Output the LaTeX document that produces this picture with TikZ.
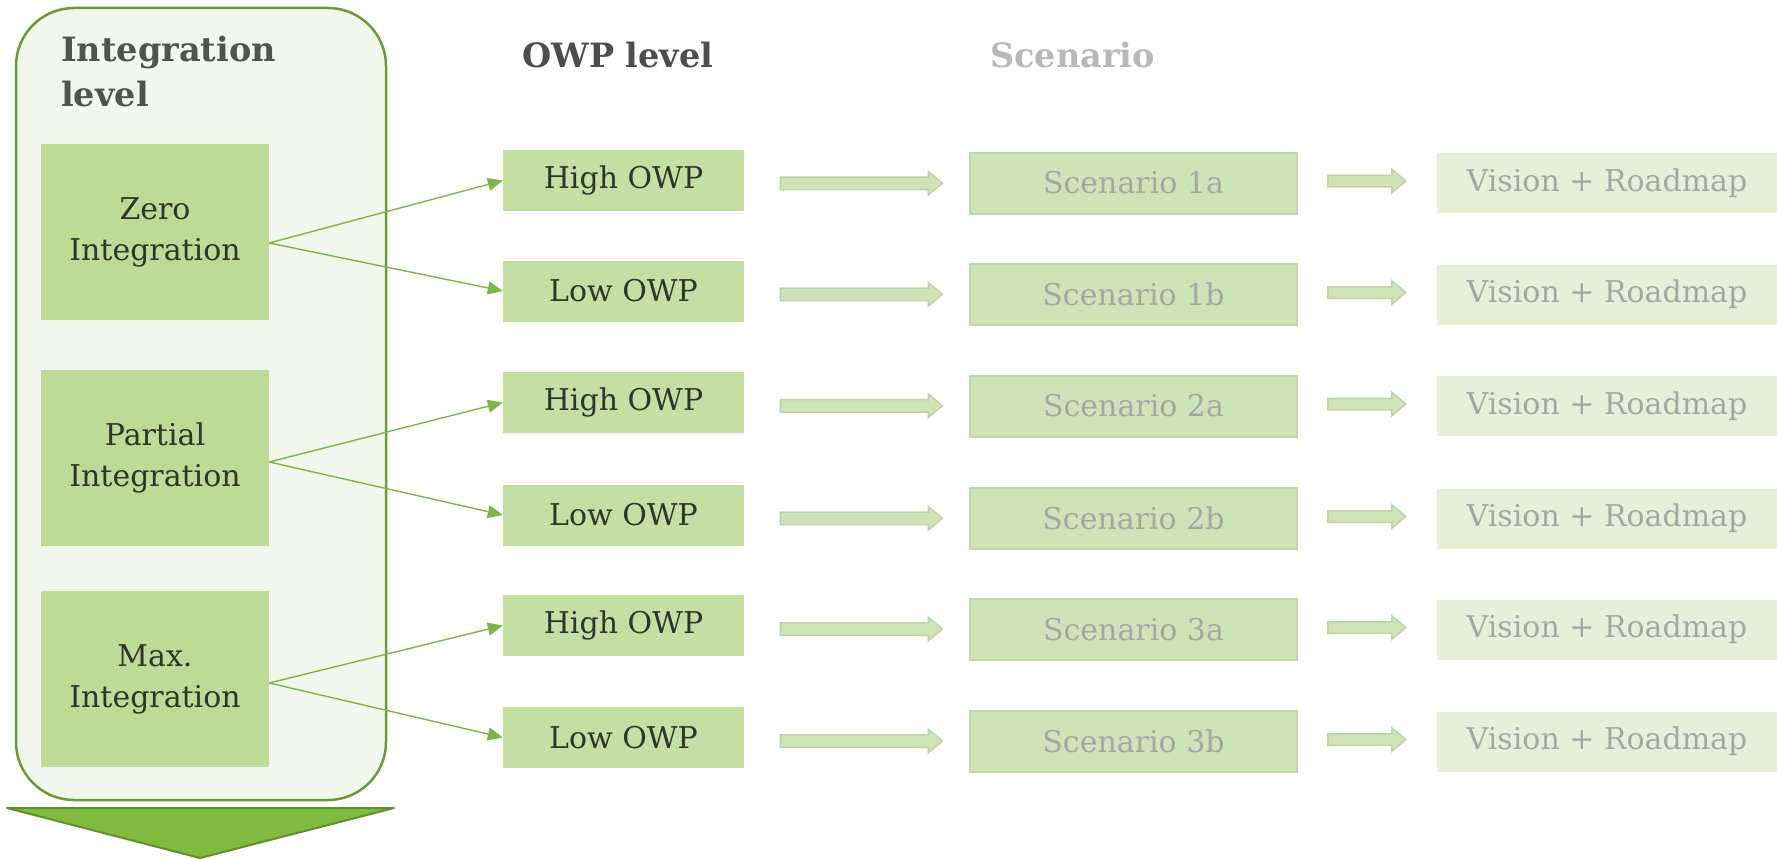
\documentclass[tikz,border=0pt]{standalone}
\usepackage{fontspec}
\setmainfont{DejaVu Serif}
\usetikzlibrary{arrows.meta,shapes.arrows,calc}
\definecolor{panelfill}{HTML}{F1F7EC}
\definecolor{panelborder}{HTML}{6A9A3A}
\definecolor{intfill}{HTML}{BCDB96}
\definecolor{owpfill}{HTML}{C4DFA4}
\definecolor{linegreen}{HTML}{7AB648}
\definecolor{trifill}{HTML}{80BB3F}
\definecolor{triborder}{HTML}{5F8F2E}
\definecolor{barfill}{HTML}{CFE4B7}
\definecolor{barborder}{HTML}{BDD3A6}
\definecolor{scenfill}{HTML}{CFE4B6}
\definecolor{scenborder}{HTML}{C3D7AC}
\definecolor{visfill}{HTML}{E6F0D9}
\definecolor{dimtext}{HTML}{A6A6A6}
\definecolor{headdark}{HTML}{4F5548}
\definecolor{owphead}{HTML}{4D4D4D}
\definecolor{scenhead}{HTML}{B8B8B8}
\definecolor{boxtext}{HTML}{2E3529}
\tikzset{
  intbox/.style={fill=intfill, draw=none, minimum width=228pt, minimum height=176pt, inner sep=0pt,
    align=center, text=boxtext, font=\fontsize{30}{41}\selectfont},
  owpbox/.style={fill=owpfill, draw=none, minimum width=241pt, minimum height=61pt, inner sep=0pt,
    text=boxtext, font=\fontsize{30}{36}\selectfont},
  scenbox/.style={fill=scenfill, draw=scenborder, line width=2pt, minimum width=327pt, minimum height=61pt, inner sep=0pt,
    text=dimtext, font=\fontsize{30}{36}\selectfont},
  visbox/.style={fill=visfill, draw=none, minimum width=340pt, minimum height=60pt, inner sep=0pt,
    text=dimtext, font=\fontsize{30}{36}\selectfont},
  heading/.style={inner sep=0pt, font=\bfseries\fontsize{33.5}{45}\selectfont},
  thinarrow/.style={draw=linegreen, line width=1.4pt, -{Triangle[length=15pt,width=13pt]}},
  bigbar/.style={single arrow, fill=barfill, draw=barborder, line width=1.5pt, minimum height=162pt,
    inner xsep=0pt, inner ysep=5.5pt, single arrow head extend=5.5pt, single arrow tip angle=80},
  smallbar/.style={single arrow, fill=barfill, draw=barborder, line width=1.5pt, minimum height=78pt,
    inner xsep=0pt, inner ysep=5pt, single arrow head extend=6pt, single arrow tip angle=80},
}
\begin{document}
\begin{tikzpicture}[x=1pt,y=-1pt]
\useasboundingbox (0,0) rectangle (1777,859);
\clip (0,0) rectangle (1777,859);
% panel
\draw[fill=panelfill, draw=panelborder, line width=2.5pt, rounded corners=58pt] (16,8) rectangle (386,800);
% down triangle
\draw[fill=trifill, draw=triborder, line width=2pt, line join=round] (7,808) -- (394,808) -- (200,858) -- cycle;
% headings
\node[heading, text=headdark, anchor=north west, align=left] (hint) at (61,36) {Integration\\level};
\node[heading, text=owphead, anchor=base west] (howp) at (522,67) {OWP level};
\node[heading, text=scenhead, anchor=base west] (hscen) at (990,67) {Scenario};
% integration boxes
\node[intbox] (zero) at (155,232) {Zero\\Integration};
\node[intbox] (part) at (155,457.5) {Partial\\Integration};
\node[intbox] (max) at (155,679) {Max.\\Integration};
% OWP boxes
\foreach \n/\t/\y in {1/High OWP/180.5, 2/Low OWP/291, 3/High OWP/402.5, 4/Low OWP/515, 5/High OWP/625.5, 6/Low OWP/737.5}{
  \node[owpbox] (o\n) at (623.5,\y) {\t};
}
% scenario and vision boxes
\foreach \n/\t/\y in {1/1a/183, 2/1b/294.5, 3/2a/406, 4/2b/518.5, 5/3a/629.5, 6/3b/741.5}{
  \node[scenbox] (s\n) at (1133.5,\y) {Scenario \t};
  \node[visbox] (v\n) at (1607,\y) {Vision + Roadmap};
}
% thin arrows
\draw[thinarrow] ([yshift=-11pt]zero.east) -- (o1.west);
\draw[thinarrow] ([yshift=-11pt]zero.east) -- (o2.west);
\draw[thinarrow] ([yshift=-4.5pt]part.east) -- (o3.west);
\draw[thinarrow] ([yshift=-4.5pt]part.east) -- (o4.west);
\draw[thinarrow] ([yshift=-4pt]max.east) -- (o5.west);
\draw[thinarrow] ([yshift=-4pt]max.east) -- (o6.west);
% block arrows
\foreach \n in {1,...,6}{
  \node[bigbar] (ba\n) at ($(o\n.east)!0.5!(s\n.west)+(1,1.5)$) {};
  \node[smallbar] (sa\n) at ($(s\n.east)!0.5!(v\n.west)+(-4,-2)$) {};
}
\end{tikzpicture}
\end{document}
